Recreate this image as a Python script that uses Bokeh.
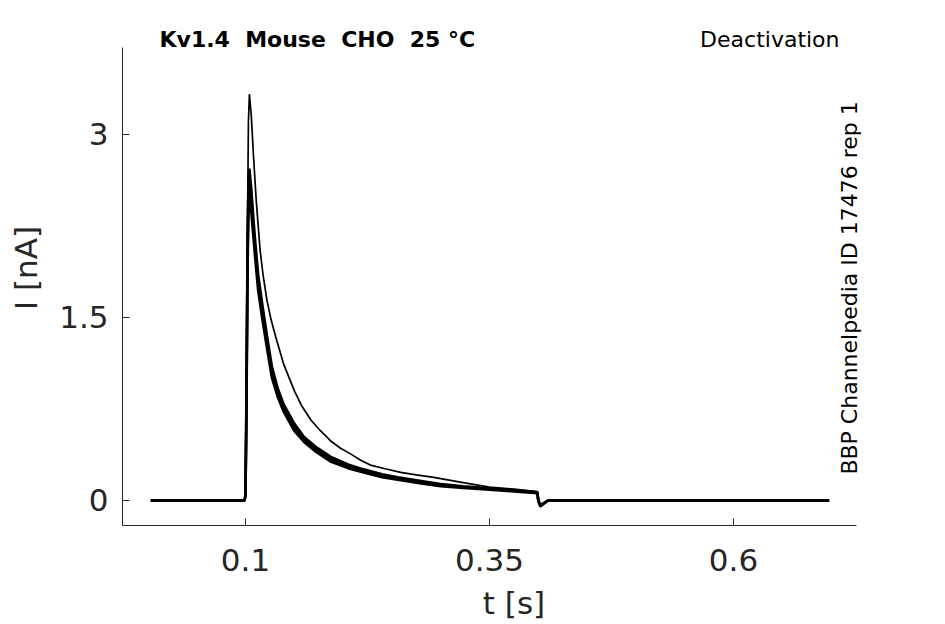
import math
from bokeh.plotting import figure
from bokeh.models import Range1d, FixedTicker, Label
from bokeh.embed import file_html
from bokeh.resources import INLINE

# ---- data ----
t_high = [0.003, 0.05, 0.099, 0.1, 0.101, 0.102, 0.103, 0.104, 0.106, 0.108, 0.111, 0.115,
          0.118, 0.122, 0.126, 0.131, 0.139, 0.15, 0.158, 0.167, 0.177, 0.187, 0.197, 0.208,
          0.218, 0.228, 0.243, 0.259, 0.275, 0.293, 0.32, 0.35, 0.38, 0.399, 0.4, 0.402,
          0.41, 0.45, 0.5, 0.55, 0.6, 0.65, 0.698]
i_high = [0, 0, 0, 0.05, 0.8, 2.2, 3.1, 3.33, 3.15, 2.85, 2.46, 2.05,
          1.85, 1.64, 1.49, 1.34, 1.12, 0.9, 0.77, 0.66, 0.57, 0.49, 0.43, 0.38,
          0.33, 0.29, 0.26, 0.23, 0.21, 0.19, 0.15, 0.11, 0.09, 0.07, 0.0, -0.05,
          0, 0, 0, 0, 0, 0, 0]

t_low = [0.003, 0.05, 0.099, 0.1, 0.101, 0.102, 0.103, 0.104, 0.106, 0.108, 0.110, 0.113,
         0.117, 0.122, 0.127, 0.133, 0.139, 0.15, 0.16, 0.172, 0.187, 0.205, 0.221, 0.24,
         0.256, 0.28, 0.3, 0.323, 0.35, 0.375, 0.399, 0.4, 0.402, 0.41, 0.45, 0.5, 0.55,
         0.6, 0.65, 0.698]
i_low1 = [0, 0, 0, 0.05, 0.9, 2.0, 2.6, 2.72, 2.55, 2.32, 2.12, 1.85,
          1.62, 1.35, 1.1, 0.92, 0.79, 0.63, 0.52, 0.44, 0.36, 0.295, 0.255, 0.215,
          0.19, 0.16, 0.135, 0.117, 0.1, 0.085, 0.07, 0.0, -0.05, 0, 0, 0, 0, 0, 0, 0]
i_low2 = [0, 0, 0, 0.04, 0.8, 1.9, 2.5, 2.6, 2.45, 2.25, 2.05, 1.78,
          1.56, 1.3, 1.05, 0.88, 0.76, 0.6, 0.5, 0.42, 0.34, 0.28, 0.24, 0.2,
          0.18, 0.15, 0.125, 0.11, 0.095, 0.08, 0.065, 0.0, -0.04, 0, 0, 0, 0, 0, 0, 0]
i_low3 = [0, 0, 0, 0.04, 0.7, 1.8, 2.4, 2.5, 2.36, 2.17, 1.98, 1.72,
          1.5, 1.25, 1.01, 0.85, 0.73, 0.57, 0.48, 0.4, 0.32, 0.265, 0.23, 0.19,
          0.17, 0.14, 0.118, 0.102, 0.088, 0.075, 0.06, 0.0, -0.04, 0, 0, 0, 0, 0, 0, 0]

x_ticks = [0.1, 0.35, 0.6]
x_tick_labels = ["0.1", "0.35", "0.6"]
y_ticks = [0, 1.5, 3]
y_tick_labels = ["0", "1.5", "3"]

# double spaces kept visible with non-breaking spaces
title_text = "Kv1.4\u00a0\u00a0Mouse\u00a0\u00a0CHO\u00a0\u00a025\u00a0°C"
protocol_text = "Deactivation"
side_text = "BBP Channelpedia ID 17476 rep 1"

AX = "#262626"
FONT = "DejaVu Sans"

# visible axis extents; the (invisible) frame is larger so the texts are not clipped
x_axis_bounds = (-0.026, 0.726)
y_axis_bounds = (-0.205, 3.713)

p = figure(width=925, height=623, output_backend="svg", toolbar_location=None,
           x_range=Range1d(-0.026, 0.7762), y_range=Range1d(-0.205, 4.016),
           min_border_left=122, min_border_right=20, min_border_top=10, min_border_bottom=98)
p.outline_line_color = None
p.grid.visible = False
p.background_fill_color = "white"
p.border_fill_color = "white"

for ax in (p.xaxis[0], p.yaxis[0]):
    ax.axis_line_color = AX
    ax.major_tick_line_color = AX
    ax.major_tick_in = 7
    ax.major_tick_out = 0
    ax.minor_tick_line_color = None
    ax.major_label_text_font = FONT
    ax.major_label_text_font_size = "31px"
    ax.major_label_text_color = AX
    ax.axis_label_text_font = FONT
    ax.axis_label_text_font_size = "31px"
    ax.axis_label_text_color = AX
    ax.axis_label_text_font_style = "normal"

p.xaxis.bounds = x_axis_bounds
p.yaxis.bounds = y_axis_bounds
p.xaxis.ticker = FixedTicker(ticks=x_ticks)
p.xaxis.major_label_overrides = {k: v for k, v in zip(x_ticks, x_tick_labels)}
p.yaxis.ticker = FixedTicker(ticks=y_ticks)
p.yaxis.major_label_overrides = {k: v for k, v in zip(y_ticks, y_tick_labels)}
p.xaxis.axis_label = "t [s]"
p.yaxis.axis_label = "I [nA]"
p.xaxis.major_label_standoff = 23
p.yaxis.major_label_standoff = 14
p.xaxis.axis_label_standoff = 11
p.yaxis.axis_label_standoff = 12

for ys in (i_low3, i_low2, i_low1):
    p.line(t_low, ys, line_color="black", line_width=2.6)
p.line(t_high, i_high, line_color="black", line_width=1.7)

p.add_layout(Label(x=0.0119, y=3.779, text=title_text, text_font=FONT, text_font_size="22px",
                   text_font_style="bold", text_color="black", text_baseline="alphabetic",
                   text_align="left"))
p.add_layout(Label(x=0.7086, y=3.779, text=protocol_text, text_font=FONT, text_font_size="22px",
                   text_color="black", text_baseline="alphabetic", text_align="right"))
p.add_layout(Label(x=0.7188, y=1.742, text=side_text, text_font=FONT, text_font_size="22px",
                   text_color="black", text_baseline="alphabetic", text_align="center",
                   angle=math.pi / 2))

open("out.html", "w").write(file_html(p, INLINE))
